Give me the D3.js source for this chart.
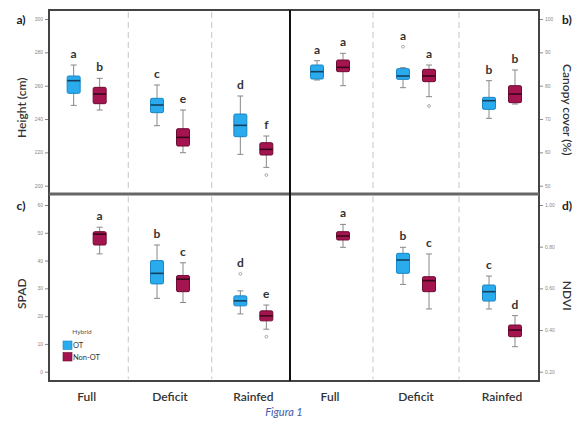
<!DOCTYPE html>
<html>
<head>
<meta charset="utf-8">
<script src="https://cdn.jsdelivr.net/npm/d3@7"></script>
<style>
  html, body { margin: 0; padding: 0; background: #fff; }
  svg { display: block; font-family: Lato, "Open Sans", "DejaVu Sans", sans-serif; }
</style>
</head>
<body>
<svg id="chart" width="577" height="421"></svg>
<script>
// Irrigation regimes and hybrid types
const groups = ["Full", "Deficit", "Rainfed"];
const hybrids = ["OT", "Non-OT"];
const hybridFill = ["#2aabee", "#a4144f"];
const hybridStroke = ["#1a86c4", "#6e0c33"];
const hybridMedian = ["#14405e", "#3a0619"];

// Tick values of each panel
const heightTicks = [200, 220, 240, 260, 280, 300];
const canopyTicks = [50, 60, 70, 80, 90, 100];
const spadTicks = [0, 10, 20, 30, 40, 50, 60];
const ndviTicks = [0.2, 0.4, 0.6, 0.8, 1.0];

// Box summaries: [lower whisker, Q1, median, Q3, upper whisker], outliers, letter
const heightBoxes = [
  { group: "Full",    hybrid: "OT",     stats: [248.2, 255.4, 263.0, 265.8, 272.4], out: [],      letter: "a" },
  { group: "Full",    hybrid: "Non-OT", stats: [245.4, 249.2, 255.0, 259.0, 264.4], out: [],      letter: "b" },
  { group: "Deficit", hybrid: "OT",     stats: [236.0, 243.8, 248.4, 252.4, 260.4], out: [],      letter: "c" },
  { group: "Deficit", hybrid: "Non-OT", stats: [219.8, 223.8, 229.0, 234.2, 245.4], out: [],      letter: "e" },
  { group: "Rainfed", hybrid: "OT",     stats: [218.8, 229.4, 236.2, 243.0, 253.8], out: [],      letter: "d" },
  { group: "Rainfed", hybrid: "Non-OT", stats: [211.0, 218.4, 221.8, 225.8, 229.8], out: [206.4], letter: "f" }
];
const canopyBoxes = [
  { group: "Full",    hybrid: "OT",     stats: [81.7, 82.0, 84.2, 86.2, 87.5], out: [],     letter: "a" },
  { group: "Full",    hybrid: "Non-OT", stats: [80.0, 84.2, 85.5, 87.7, 89.7], out: [],     letter: "a" },
  { group: "Deficit", hybrid: "OT",     stats: [79.4, 81.9, 82.9, 85.1, 85.4], out: [91.7], letter: "a" },
  { group: "Deficit", hybrid: "Non-OT", stats: [76.7, 81.2, 82.9, 84.9, 86.2], out: [73.9], letter: "a" },
  { group: "Rainfed", hybrid: "OT",     stats: [70.2, 72.9, 75.5, 76.5, 81.5], out: [],     letter: "b" },
  { group: "Rainfed", hybrid: "Non-OT", stats: [74.5, 74.9, 77.5, 80.0, 84.7], out: [],     letter: "b" }
];
const spadBoxes = [
  { group: "Full",    hybrid: "Non-OT", stats: [42.4, 45.6, 49.5, 50.4, 52.0], out: [],     letter: "a" },
  { group: "Deficit", hybrid: "OT",     stats: [26.4, 31.6, 35.4, 40.0, 45.6], out: [],     letter: "b" },
  { group: "Deficit", hybrid: "Non-OT", stats: [24.9, 28.8, 33.3, 34.6, 39.2], out: [],     letter: "c" },
  { group: "Rainfed", hybrid: "OT",     stats: [20.8, 23.7, 25.5, 27.3, 29.1], out: [35.2], letter: "d" },
  { group: "Rainfed", hybrid: "Non-OT", stats: [15.3, 18.3, 20.1, 21.9, 24.0], out: [12.6], letter: "e" }
];
const ndviBoxes = [
  { group: "Full",    hybrid: "Non-OT", stats: [0.797, 0.832, 0.851, 0.872, 0.907], out: [], letter: "a" },
  { group: "Deficit", hybrid: "OT",     stats: [0.619, 0.672, 0.736, 0.768, 0.797], out: [], letter: "b" },
  { group: "Deficit", hybrid: "Non-OT", stats: [0.501, 0.584, 0.637, 0.656, 0.765], out: [], letter: "c" },
  { group: "Rainfed", hybrid: "OT",     stats: [0.501, 0.539, 0.584, 0.616, 0.659], out: [], letter: "c" },
  { group: "Rainfed", hybrid: "Non-OT", stats: [0.320, 0.368, 0.400, 0.424, 0.469], out: [], letter: "d" }
];

const svg = d3.select("#chart");

// Panel layout
const leftX = [49, 290], rightX = [290, 539];
const topY = [10, 193.5], botY = [194.5, 381];

const xLeft = d3.scaleBand().domain(groups).range([45, 295]);
const xRight = d3.scaleBand().domain(groups).range([287, 545]);

const panels = [
  { key: "a)", title: "Height (cm)", boxes: heightBoxes, ticks: heightTicks, fmt: d3.format("d"),
    y: d3.scaleLinear().domain([200, 300]).range([185.7, 19]), xs: xLeft, frameX: leftX, frameY: topY, side: "left" },
  { key: "b)", title: "Canopy cover (%)", boxes: canopyBoxes, ticks: canopyTicks, fmt: d3.format("d"),
    y: d3.scaleLinear().domain([50, 100]).range([185.7, 19]), xs: xRight, frameX: rightX, frameY: topY, side: "right" },
  { key: "c)", title: "SPAD", boxes: spadBoxes, ticks: spadTicks, fmt: d3.format("d"),
    y: d3.scaleLinear().domain([0, 60]).range([371.7, 205]), xs: xLeft, frameX: leftX, frameY: botY, side: "left" },
  { key: "d)", title: "NDVI", boxes: ndviBoxes, ticks: ndviTicks, fmt: d3.format(".2f"),
    y: d3.scaleLinear().domain([0.2, 1.0]).range([371.7, 205]), xs: xRight, frameX: rightX, frameY: botY, side: "right" }
];

panels.forEach(p => {
  const g = svg.append("g");
  const [x0, x1] = p.frameX, [y0, y1] = p.frameY;
  const bw = p.xs.bandwidth();
  const dodge = d3.scaleBand().domain(hybrids).range([bw / 2 - 26, bw / 2 + 26]);
  const cx = d => p.xs(d.group) + dodge(d.hybrid) + dodge.bandwidth() / 2;
  const boxW = 13;

  // Dashed separators between regimes
  groups.slice(1).forEach(gr => {
    g.append("line")
      .attr("x1", p.xs(gr)).attr("x2", p.xs(gr))
      .attr("y1", y0 + 2).attr("y2", y1 - 2)
      .attr("stroke", "#cfcfcf").attr("stroke-width", 1.2)
      .attr("stroke-dasharray", "6,4");
  });

  // Y axis
  const axis = (p.side === "left" ? d3.axisLeft(p.y) : d3.axisRight(p.y))
    .tickValues(p.ticks).tickFormat(p.fmt).tickSize(4).tickPadding(2);
  const ax = g.append("g")
    .attr("transform", `translate(${p.side === "left" ? x0 : x1},0)`)
    .call(axis);
  ax.select(".domain").remove();
  ax.selectAll(".tick line").attr("stroke", "#888");
  ax.selectAll(".tick text").attr("fill", "#888").attr("font-size", 5);

  // Whiskers
  const bx = g.selectAll(".box").data(p.boxes).join("g").attr("class", "box");
  bx.append("line")
    .attr("x1", cx).attr("x2", cx)
    .attr("y1", d => p.y(d.stats[0])).attr("y2", d => p.y(d.stats[4]))
    .attr("stroke", "#888").attr("stroke-width", 1);
  [0, 4].forEach(i => {
    bx.append("line")
      .attr("x1", d => cx(d) - 3).attr("x2", d => cx(d) + 3)
      .attr("y1", d => p.y(d.stats[i])).attr("y2", d => p.y(d.stats[i]))
      .attr("stroke", "#888").attr("stroke-width", 1);
  });
  // Boxes
  bx.append("rect")
    .attr("x", d => cx(d) - boxW / 2).attr("width", boxW)
    .attr("y", d => p.y(d.stats[3]))
    .attr("height", d => p.y(d.stats[1]) - p.y(d.stats[3]))
    .attr("rx", 1.5)
    .attr("fill", d => hybridFill[hybrids.indexOf(d.hybrid)])
    .attr("stroke", d => hybridStroke[hybrids.indexOf(d.hybrid)])
    .attr("stroke-width", 1);
  // Medians
  bx.append("line")
    .attr("x1", d => cx(d) - boxW / 2).attr("x2", d => cx(d) + boxW / 2)
    .attr("y1", d => p.y(d.stats[2])).attr("y2", d => p.y(d.stats[2]))
    .attr("stroke", d => hybridMedian[hybrids.indexOf(d.hybrid)]).attr("stroke-width", 1.6);
  // Outliers
  bx.each(function (d) {
    d3.select(this).selectAll("circle").data(d.out).join("circle")
      .attr("cx", cx(d)).attr("cy", v => p.y(v)).attr("r", 1.4)
      .attr("fill", "none").attr("stroke", "#999").attr("stroke-width", 0.8);
  });
  // Significance letters
  bx.append("text")
    .attr("x", cx)
    .attr("y", d => p.y(d3.max([d.stats[4], ...d.out])) - 7)
    .attr("text-anchor", "middle")
    .attr("font-size", 12).attr("font-weight", 700).attr("fill", "#333")
    .text(d => d.letter);

  // Panel tag and axis title
  const tagX = p.side === "left" ? 21 : 567;
  g.append("text")
    .attr("x", tagX).attr("y", p.y(p.ticks[p.ticks.length - 1]) + 4.5)
    .attr("text-anchor", "middle")
    .attr("font-size", 12).attr("font-weight", 700).attr("fill", "#222")
    .text(p.key);
  const titleY = p.side === "left" ? (y0 + y1) / 2 + 6 : (y0 + y1) / 2 + 8;
  g.append("text")
    .attr("transform", p.side === "left"
      ? `translate(26,${titleY}) rotate(-90)`
      : `translate(563,${titleY}) rotate(90)`)
    .attr("text-anchor", "middle")
    .attr("font-size", 12).attr("font-weight", 600).attr("fill", "#333")
    .text(p.title);
});

// Frames
const frame = svg.append("g").attr("fill", "none");
frame.append("rect").attr("x", 49).attr("y", 10).attr("width", 490).attr("height", 371)
  .attr("stroke", "#444").attr("stroke-width", 2);
frame.append("line").attr("x1", 49).attr("x2", 539).attr("y1", 194).attr("y2", 194)
  .attr("stroke", "#666").attr("stroke-width", 3);
frame.append("line").attr("x1", 290).attr("x2", 290).attr("y1", 10).attr("y2", 381)
  .attr("stroke", "#111").attr("stroke-width", 2);

// Regime labels under each bottom panel
[xLeft, xRight].forEach(xs => {
  svg.append("g").selectAll("text").data(groups).join("text")
    .attr("x", d => xs(d) + xs.bandwidth() / 2)
    .attr("y", 401)
    .attr("text-anchor", "middle")
    .attr("font-size", 12).attr("font-weight", 600).attr("fill", "#333")
    .text(d => d);
});

// Legend
const leg = svg.append("g");
leg.append("text").attr("x", 82).attr("y", 334).attr("text-anchor", "middle")
  .attr("font-size", 6.5).attr("fill", "#555").text("Hybrid");
hybrids.forEach((h, i) => {
  leg.append("rect").attr("x", 63).attr("y", 341 + i * 11.5).attr("width", 9).attr("height", 8.5)
    .attr("fill", hybridFill[i]).attr("stroke", hybridStroke[i]).attr("stroke-width", 0.6);
  leg.append("text").attr("x", 73).attr("y", 348 + i * 11.5)
    .attr("font-size", 7.5).attr("fill", "#333").text(h);
});

// Caption
svg.append("text").attr("x", 284).attr("y", 416).attr("text-anchor", "middle")
  .attr("font-size", 11).attr("font-style", "italic").attr("fill", "#3f5aa8")
  .text("Figura 1");
</script>
</body>
</html>
